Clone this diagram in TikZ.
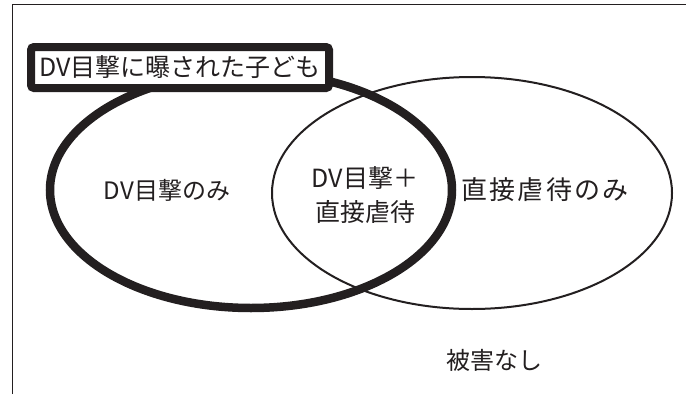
\documentclass[tikz,border=0pt]{standalone}
\usepackage{fontspec}
\newfontfamily\jp{Noto Sans CJK JP}
\newfontfamily\jpwide[LetterSpace=8]{Noto Sans CJK JP}
\definecolor{ink}{HTML}{231F20}
\begin{document}
\begin{tikzpicture}[x=1pt,y=-1pt,
  lbl/.style={font=\jp\fontsize{24}{34}\selectfont, text=ink, inner sep=0pt, align=center},
  boxlbl/.style={font=\jp\fontsize{25}{30}\selectfont, text=ink, fill=white, draw=ink,
     line width=8pt, rounded corners=3pt, minimum width=298pt, minimum height=41pt, inner sep=0pt}]
\useasboundingbox (0,0) rectangle (686,394);
\fill[white] (0,0) rectangle (686,394);
% frame
\draw[ink, line width=1.5pt] (12.5,394) -- (12.5,4.5) -- (686,4.5);
% ellipses
\draw[ink, line width=8.5pt] (251,190) ellipse [x radius=201, y radius=118];
\draw[ink, line width=2pt] (472,193) ellipse [x radius=200, y radius=116];
% label box
\node[boxlbl] (title) at (180,67.5) {DV目撃に曝された子ども};
% region labels
\node[lbl] (dvonly) at (167,190) {DV目撃のみ};
\node[lbl, font=\jp\fontsize{25}{34}\selectfont] (both) at (365,195) {DV目撃＋\\直接虐待};
\node[lbl, font=\jpwide\fontsize{26}{34}\selectfont] (abuseonly) at (545,190) {直接虐待のみ};
\node[lbl] (none) at (494,360) {被害なし};
\end{tikzpicture}
\end{document}
